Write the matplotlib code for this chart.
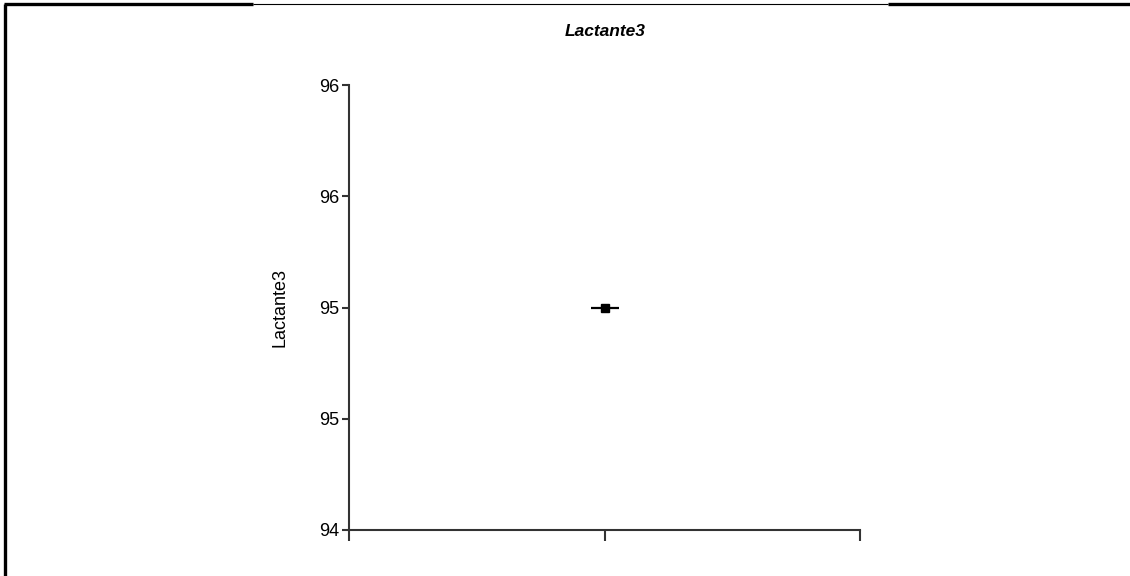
import matplotlib
matplotlib.use("Agg")
import matplotlib.pyplot as plt
from matplotlib.lines import Line2D

plt.rcParams['font.family'] = ['Liberation Sans', 'DejaVu Sans']

categories = ["Lactante3"]
values = [95.0]
ytick_values = [94, 94.5, 95, 95.5, 96]
ytick_labels = ["94", "95", "95", "96", "96"]
title = "Lactante3"
ylabel = "Lactante3"

W, H = 1130, 576
fig = plt.figure(figsize=(W / 100, H / 100), dpi=100)
ax = fig.add_axes([349 / W, 1 - 530 / H, (860 - 349) / W, (530 - 85) / H])

xs = [0 for _ in values]
ax.plot(xs, values, linestyle='none', marker='_', markersize=20, markeredgewidth=1.6, color='black')
ax.plot(xs, values, linestyle='none', marker='s', markersize=6, color='black')

ax.set_xlim(-1, 1)
ax.set_ylim(94, 96)
ax.set_xticks([-1, 0, 1])
ax.set_xticklabels([])
ax.set_yticks(ytick_values)
ax.set_yticklabels(ytick_labels, fontsize=13)
ax.tick_params(axis='y', length=5, width=1.5, color='#333333', pad=2)
ax.tick_params(axis='x', length=8, width=1.5, color='#333333')
for s in ['top', 'right']:
    ax.spines[s].set_visible(False)
for s in ['left', 'bottom']:
    ax.spines[s].set_linewidth(1.5)
    ax.spines[s].set_color('#333333')

ax.set_ylabel(ylabel, fontsize=13, labelpad=22)
fig.text(605 / W, 1 - 32 / H, title, fontsize=12.5, fontweight='bold', fontstyle='italic',
         ha='center', va='center')

# frame lines around the image
def fl(x0, y0, x1, y1, lw):
    fig.add_artist(Line2D([x0 / W, x1 / W], [1 - y0 / H, 1 - y1 / H], color='black', lw=lw,
                          transform=fig.transFigure, solid_capstyle='butt'))

fl(5, 4, 5, 576, 2.4)
fl(4, 4, 253, 4, 2.4)
fl(253, 3.5, 888, 3.5, 0.8)
fl(888, 4, 1130, 4, 2.4)

fig.savefig("out.png", dpi=100)
